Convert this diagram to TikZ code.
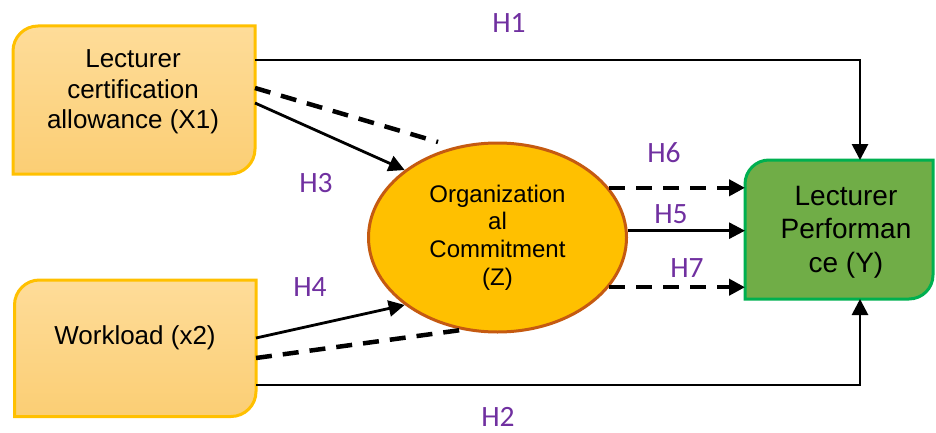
\documentclass[tikz,border=0pt]{standalone}
\usepackage{fontspec}
\setmainfont{Liberation Sans}
\newfontfamily\hlabelfont{Carlito}
\usetikzlibrary{arrows.meta,shapes.geometric,backgrounds}

\definecolor{goldline}{HTML}{FFC000}
\definecolor{goldtop}{HTML}{FEDC99}
\definecolor{goldbot}{HTML}{FBCE74}
\definecolor{ovalfill}{HTML}{FFC000}
\definecolor{ovalline}{HTML}{C55A11}
\definecolor{greenfill}{HTML}{70AD47}
\definecolor{greenline}{HTML}{00B050}
\definecolor{hpurple}{HTML}{7030A0}

% outline with rounded top-left and bottom-right corners, built on a node
\newcommand\leafoutline[2]{%
  (#1.south west) -- ([yshift=-#2]#1.north west)
  arc[start angle=180,end angle=90,radius=#2]
  -- (#1.north east) -- ([yshift=#2]#1.south east)
  arc[start angle=0,end angle=-90,radius=#2] -- cycle}

\tikzset{
  frame/.style={rectangle,inner sep=0pt,outer sep=0pt},
  varbox/.style={draw=goldline,line width=3pt,top color=goldtop,bottom color=goldbot},
  outbox/.style={draw=greenline,line width=3pt,fill=greenfill},
  boxtext/.style={align=center,inner sep=0pt,font=\fontsize{26}{30.5}\selectfont},
  hlabel/.style={text=hpurple,inner sep=0pt,text height=19pt,text depth=0pt,
    font=\hlabelfont\fontsize{29.5}{32}\selectfont},
  tip/.style={-{Triangle[length=16pt,width=16pt]}},
  arrowline/.style={line width=2.8pt,tip},
  dashline/.style={line width=4.5pt,dash pattern=on 16pt off 11pt},
  dasharrow/.style={dashline,tip},
}

\begin{document}
\begin{tikzpicture}[x=1pt,y=1pt]
\useasboundingbox (0,0) rectangle (936,432);

% independent and dependent variables
\node[frame,minimum width=242pt,minimum height=148pt] (x1) at (134,332) {};
\node[frame,minimum width=241.5pt,minimum height=136.5pt] (x2) at (135.25,83.75) {};
\node[frame,minimum width=188pt,minimum height=139pt] (y) at (839,202.5) {};

\begin{scope}[on background layer]
  \path[varbox] \leafoutline{x1}{25pt};
  \path[varbox] \leafoutline{x2}{25pt};
  \path[outbox] \leafoutline{y}{24pt};
\end{scope}

\node[boxtext] (x1text) at (133,340) {Lecturer\\certification\\allowance (X1)};
\node[boxtext] (x2text) at (135,94) {Workload (x2)};
\node[boxtext,font=\fontsize{28}{33.5}\selectfont] (ytext) at (846,200)
  {Lecturer\\Performan\\ce (Y)};

% mediator
\node[ellipse,draw=ovalline,line width=3pt,fill=ovalfill,inner sep=0pt,
      minimum width=258pt,minimum height=189pt,align=center,
      font=\fontsize{24}{27.7}\selectfont] (z) at (497.5,194.5)
  {Organization\\al\\Commitment\\(Z)};

% direct effects
\draw[arrowline] ([yshift=-34pt]x1.north east) -| ([xshift=21pt]y.north);
\draw[arrowline] ([yshift=31.5pt]x2.south east) -| ([xshift=21pt]y.south);

% effects on the mediator
\coordinate (d1end) at (438,290);
\draw[dashline] ([yshift=-62pt]x1.north east) -- (d1end);
\draw[arrowline] ([yshift=-77pt]x1.north east) -- (z.144);
\draw[arrowline] ([yshift=-58pt]x2.north east) -- (z.216);
\draw[dashline] ([yshift=-78pt]x2.north east) -- (z.249);

% mediator to performance
\draw[dasharrow] (z.24) -- (z.24 -| y.west);
\draw[arrowline] (z.3) -- (z.3 -| y.west);
\draw[dasharrow] (z.-24) -- (z.-24 -| y.west);

% hypothesis labels
\node[hlabel] (h1) at (509,409) {H1};
\node[hlabel] (h2) at (498,15) {H2};
\node[hlabel] (h3) at (316,249) {H3};
\node[hlabel] (h4) at (310,145) {H4};
\node[hlabel] (h5) at (671,218) {H5};
\node[hlabel] (h6) at (664,279) {H6};
\node[hlabel] (h7) at (687,164) {H7};
\end{tikzpicture}
\end{document}
